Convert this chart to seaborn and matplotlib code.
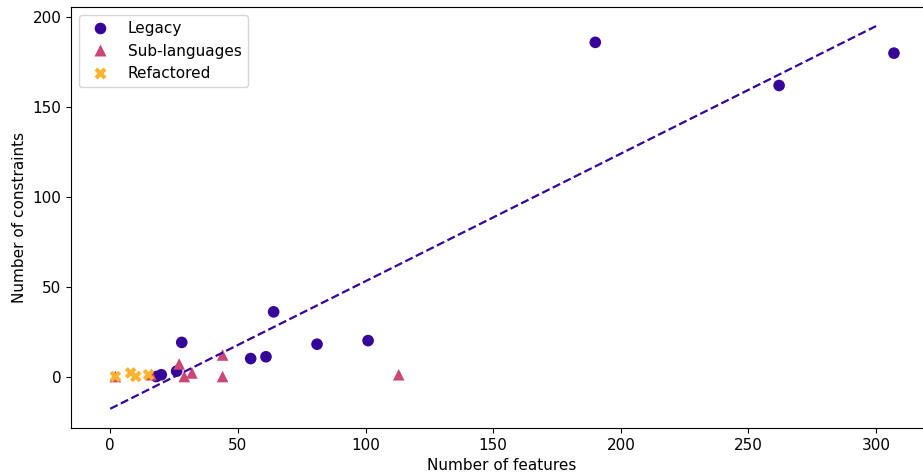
import numpy as np
import pandas as pd
import matplotlib
matplotlib.use("Agg")
import matplotlib.pyplot as plt
import seaborn as sns

# values
legacy_features = [18, 20, 26, 28, 55, 61, 64, 81, 101, 190, 262, 307]
legacy_constraints = [0, 1, 3, 19, 10, 11, 36, 18, 20, 186, 162, 180]
sub_features = [2, 16, 27, 29, 32, 44, 44, 113]
sub_constraints = [0, 1, 7, 0, 2, 12, 0, 1]
ref_features = [2, 8, 10, 15]
ref_constraints = [0, 2, 0, 1]

groups = ["Legacy", "Sub-languages", "Refactored"]
colors = {"Legacy": "#360498", "Sub-languages": "#cc4778", "Refactored": "#fdb32f"}
markers = {"Legacy": "o", "Sub-languages": "^", "Refactored": "X"}

df = pd.DataFrame({
    "features": legacy_features + sub_features + ref_features,
    "constraints": legacy_constraints + sub_constraints + ref_constraints,
    "kind": ["Legacy"] * len(legacy_features)
    + ["Sub-languages"] * len(sub_features)
    + ["Refactored"] * len(ref_features),
})

plt.rcParams["font.family"] = ["DejaVu Sans"]
plt.rcParams["font.size"] = 11

fig = plt.figure(figsize=(9.23, 4.76), dpi=100)
# the axes run off the right edge, like in the cropped original
ax = fig.add_axes([0.077, 0.101, 0.934, 0.884])

sns.scatterplot(data=df, x="features", y="constraints", hue="kind", style="kind",
                hue_order=groups, style_order=groups, palette=colors, markers=markers,
                s=70, edgecolor="none", ax=ax)

# linear fit on the legacy projects
slope, intercept = np.polyfit(legacy_features, legacy_constraints, 1)
xs = np.linspace(0, 300, 50)
ax.plot(xs, slope * xs + intercept, linestyle="--", color=colors["Legacy"], linewidth=1.6)

ax.set_xlim(-15.35, 322.35)
ax.set_ylim(-28.6, 205.6)
ax.spines["right"].set_visible(False)
ax.set_xlabel("Number of features")
ax.set_ylabel("Number of constraints")
ax.set_xticks([0, 50, 100, 150, 200, 250, 300])
ax.set_yticks([0, 50, 100, 150, 200])
ax.legend(loc="upper left", title=None)

fig.savefig("out.png", dpi=100)
